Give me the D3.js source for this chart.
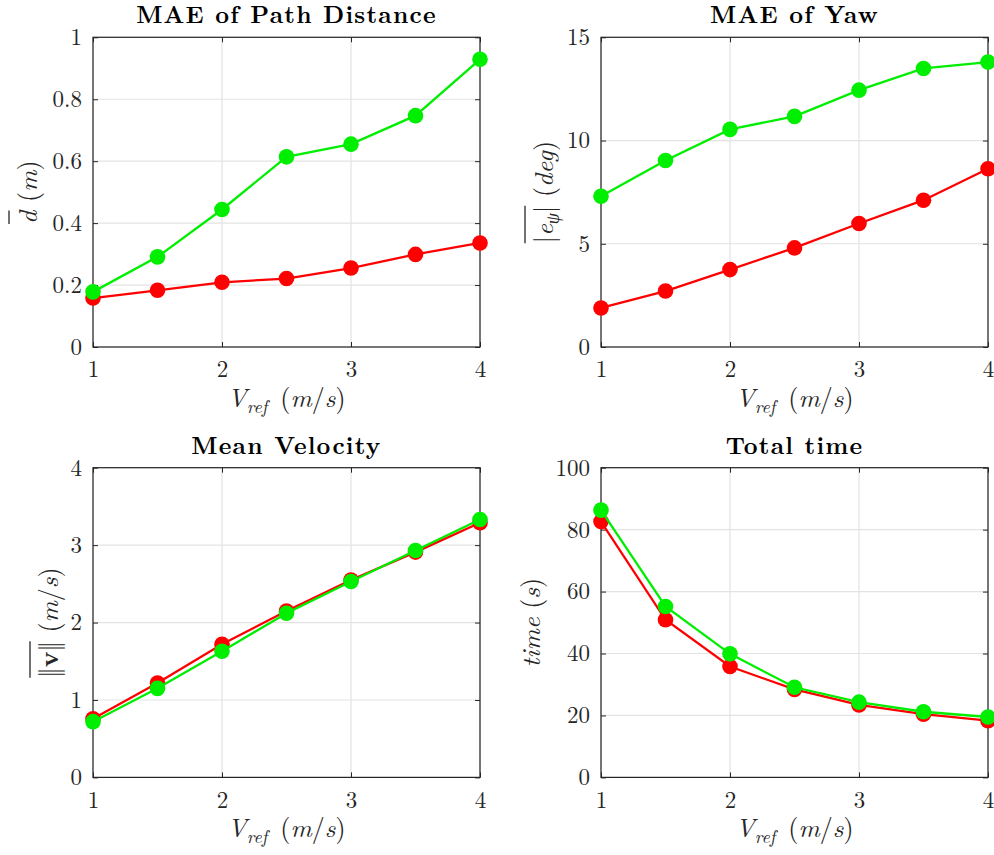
<!DOCTYPE html>
<html>
<head>
<meta charset="utf-8">
<script src="https://cdn.jsdelivr.net/npm/d3@7"></script>
<style>
body { margin: 0; background: #fff; }
</style>
</head>
<body>
<svg id="fig" width="994" height="855"></svg>
<script>
"use strict";

// data
const vref = [1, 1.5, 2, 2.5, 3, 3.5, 4];
const xTicks = [1, 2, 3, 4];

const distRed   = [0.158, 0.183, 0.209, 0.221, 0.255, 0.299, 0.336];
const distGreen = [0.178, 0.291, 0.444, 0.614, 0.655, 0.747, 0.929];
const distTicks = [0, 0.2, 0.4, 0.6, 0.8, 1];

const yawRed   = [1.89, 2.71, 3.75, 4.80, 5.98, 7.11, 8.63];
const yawGreen = [7.30, 9.03, 10.54, 11.17, 12.44, 13.49, 13.80];
const yawTicks = [0, 5, 10, 15];

const velRed   = [0.757, 1.22, 1.72, 2.15, 2.55, 2.91, 3.29];
const velGreen = [0.72, 1.15, 1.63, 2.12, 2.53, 2.93, 3.33];
const velTicks = [0, 1, 2, 3, 4];

const timeRed   = [82.6, 50.9, 35.8, 28.4, 23.4, 20.4, 18.3];
const timeGreen = [86.3, 55.2, 39.9, 29.1, 24.3, 21.2, 19.5];
const timeTicks = [0, 20, 40, 60, 80, 100];

const red = "#ff0000";
const green = "#00ee00";
const frameColor = "#262626";
const gridColor = "#e3e3e3";
const serif = "'Latin Modern Roman', 'Liberation Serif', serif";

const svg = d3.select("#fig");

// y labels: parts = [text, style], over = overlined part range
const panels = [
  { title: "MAE of Path Distance", left: 93, top: 37.3, yTicks: distTicks,
    red: distRed, green: distGreen, labelX: 37,
    label: [["d", "i"], [" (", ""], ["m", "i"], [")", ""]], over: [0, 0] },
  { title: "MAE of Yaw", left: 601, top: 37.3, yTicks: yawTicks,
    red: yawRed, green: yawGreen, labelX: 553,
    label: [["|", ""], ["e", "i"], ["ψ", "sub"], ["|", ""], [" (", ""], ["deg", "i"], [")", ""]], over: [0, 3] },
  { title: "Mean Velocity", left: 93, top: 467.7, yTicks: velTicks,
    red: velRed, green: velGreen, labelX: 58,
    label: [["‖", ""], ["v", "b"], ["‖", ""], [" (", ""], ["m", "i"], ["/", ""], ["s", "i"], [")", ""]], over: [0, 2] },
  { title: "Total time", left: 601, top: 467.7, yTicks: timeTicks,
    red: timeRed, green: timeGreen, labelX: 540,
    label: [["time", "i"], [" (", ""], ["s", "i"], [")", ""]], over: null }
];

const pw = 387, ph = 309.7;

function addParts(textSel, parts) {
  parts.forEach(([t, st]) => {
    const ts = textSel.append("tspan").text(t).style("font-family", serif);
    if (st === "i") ts.style("font-style", "italic");
    if (st === "b") ts.style("font-weight", "bold");
    if (st === "sub") ts.style("font-style", "italic").style("font-size", "18px").attr("baseline-shift", "-6");
  });
}

panels.forEach(p => {
  const g = svg.append("g").attr("transform", `translate(${p.left},${p.top})`);
  const x = d3.scaleLinear().domain([1, 4]).range([0, pw]);
  const y = d3.scaleLinear().domain([0, d3.max(p.yTicks)]).range([ph, 0]);

  // grid
  g.selectAll(".gx").data(xTicks).join("line")
    .attr("x1", d => x(d)).attr("x2", d => x(d)).attr("y1", 0).attr("y2", ph)
    .attr("stroke", gridColor).attr("stroke-width", 1.2);
  g.selectAll(".gy").data(p.yTicks).join("line")
    .attr("y1", d => y(d)).attr("y2", d => y(d)).attr("x1", 0).attr("x2", pw)
    .attr("stroke", gridColor).attr("stroke-width", 1.2);

  // axes with inward ticks
  const styleAxis = a => {
    a.select(".domain").remove();
    a.selectAll(".tick line").attr("stroke", frameColor).attr("stroke-width", 1);
    a.selectAll(".tick text").attr("fill", frameColor)
      .style("font-family", serif).style("font-size", "23px");
  };
  g.append("g").attr("transform", `translate(0,${ph})`)
    .call(d3.axisBottom(x).tickValues(xTicks).tickSize(-5).tickPadding(14).tickFormat(d3.format("~g")))
    .call(styleAxis);
  g.append("g")
    .call(d3.axisLeft(y).tickValues(p.yTicks).tickSize(-5).tickPadding(11).tickFormat(d3.format("~g")))
    .call(styleAxis);
  g.append("g")
    .call(d3.axisTop(x).tickValues(xTicks).tickSize(-5).tickFormat(""))
    .call(styleAxis);
  g.append("g").attr("transform", `translate(${pw},0)`)
    .call(d3.axisRight(y).tickValues(p.yTicks).tickSize(-5).tickFormat(""))
    .call(styleAxis);

  // frame
  g.append("rect").attr("width", pw).attr("height", ph)
    .attr("fill", "none").attr("stroke", frameColor).attr("stroke-width", 1.2);

  // series
  const line = d3.line().x((d, i) => x(vref[i])).y(d => y(d));
  [[p.red, red], [p.green, green]].forEach(([vals, col]) => {
    g.append("path").datum(vals).attr("d", line)
      .attr("fill", "none").attr("stroke", col).attr("stroke-width", 2.3);
    g.selectAll(null).data(vals).join("circle")
      .attr("cx", (d, i) => x(vref[i])).attr("cy", d => y(d)).attr("r", 7.8)
      .attr("fill", col);
  });

  // title
  g.append("text").attr("x", pw / 2).attr("y", -14).attr("text-anchor", "middle")
    .style("font-family", serif).style("font-weight", "bold")
    .style("font-size", "24px").style("letter-spacing", "1.2px")
    .attr("fill", "#000").text(p.title);

  // x label
  const xl = g.append("text").attr("x", pw / 2).attr("y", ph + 60)
    .attr("text-anchor", "middle").attr("fill", frameColor).style("font-size", "26px");
  addParts(xl, [["V", "i"], ["ref", "sub"], ["\u2002(", ""], ["m", "i"], ["/", ""], ["s", "i"], [")", ""]]);

  // y label
  const lg = svg.append("g")
    .attr("transform", `translate(${p.labelX},${p.top + ph / 2}) rotate(-90)`);
  const yl = lg.append("text").attr("text-anchor", "middle").attr("fill", frameColor)
    .style("font-size", "26px");
  addParts(yl, p.label);
  if (p.over) {
    const node = yl.node();
    let idx = 0, from = 0, to = 0;
    p.label.forEach(([t], k) => {
      if (k === p.over[0]) from = idx;
      if (k === p.over[1]) to = idx + t.length - 1;
      idx += t.length;
    });
    const a = node.getExtentOfChar(from), b = node.getExtentOfChar(to);
    const top = d3.min(d3.range(from, to + 1), i => node.getExtentOfChar(i).y);
    lg.append("line").attr("x1", a.x).attr("x2", b.x + b.width)
      .attr("y1", top + 1).attr("y2", top + 1)
      .attr("stroke", frameColor).attr("stroke-width", 1.3);
  }
});
</script>
</body>
</html>
